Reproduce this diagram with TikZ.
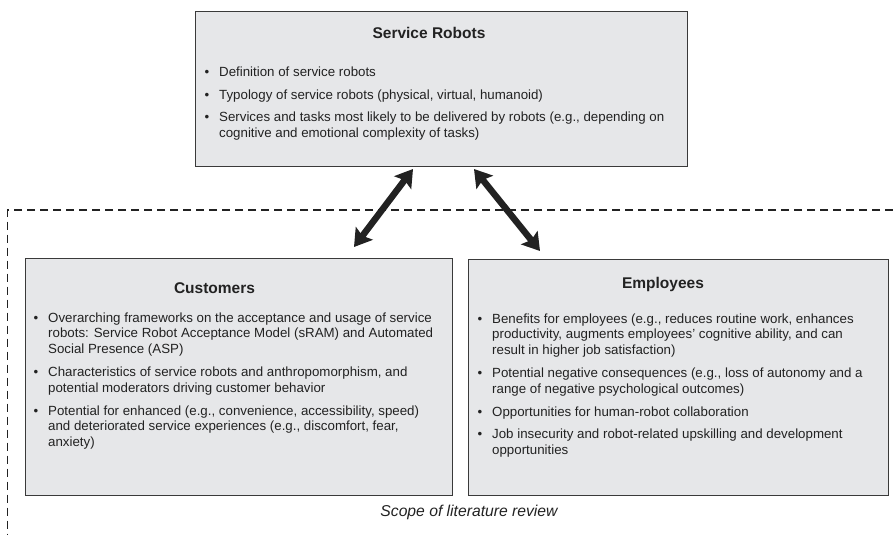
\documentclass[tikz,border=0pt]{standalone}
\usepackage{fontspec}
\setmainfont{Liberation Sans}
\usetikzlibrary{arrows.meta}
\definecolor{boxfill}{HTML}{E6E7E9}
\definecolor{boxline}{HTML}{3A3A3A}
\definecolor{ink}{HTML}{222222}
\newcommand{\bul}{\makebox[14.5pt][l]{\textbullet}}
\newcommand{\ind}{\hspace*{14.5pt}}
\tikzset{
  panel/.style={draw=boxline, fill=boxfill, line width=1.2pt, anchor=north west, inner sep=0pt},
  paneltitle/.style={font=\fontsize{15.5}{18}\selectfont\bfseries, text=ink, anchor=base, inner sep=0pt},
  itemlist/.style={font=\fontsize{13.3}{15.8}\selectfont, text=ink, anchor=base west, inner sep=0pt},
  biarrow/.style={draw=ink, line width=6.5pt, {Stealth[length=17pt,width=21pt,inset=3pt]}-{Stealth[length=17pt,width=21pt,inset=3pt]}, shorten <=0pt, shorten >=0pt},
  scopeline/.style={draw=ink, line width=1.1pt, dash pattern=on 8pt off 5pt},
  scopelabel/.style={font=\fontsize{15.7}{18}\selectfont\itshape, text=ink, inner sep=0pt}
}
\begin{document}
\begin{tikzpicture}[x=1pt,y=-1pt]
\useasboundingbox (0,0) rectangle (893,535);
% scope of review
\coordinate (sr) at (893,210);
\coordinate (sc) at (7.5,210);
\coordinate (sb) at (7.5,535);
\draw[scopeline] (sr) -- (sc) -- (sb);
\node[scopelabel] (scope) at (469,512) {Scope of literature review};
% boxes
\node[panel, minimum width=492pt, minimum height=155pt] (robots) at (195,11) {};
\node[panel, minimum width=427pt, minimum height=237pt] (cust) at (25,258) {};
\node[panel, minimum width=420pt, minimum height=236pt] (empl) at (468,259) {};
% titles
\node[paneltitle] (robotsT) at (429,38.5) {Service Robots};
\node[paneltitle] (custT) at (214.5,293.5) {Customers};
\node[paneltitle] (emplT) at (663,288.5) {Employees};
% contents
\node[itemlist] (robotsL) at (204.5,77) {\begin{tabular}[t]{@{}l@{}}
\bul Definition of service robots\\[6.5pt]
\bul Typology of service robots (physical, virtual, humanoid)\\[6.5pt]
\bul Services and tasks most likely to be delivered by robots (e.g., depending on\\
\ind cognitive and emotional complexity of tasks)\end{tabular}};
\node[itemlist] (custL) at (33.5,322) {\begin{tabular}[t]{@{}l@{}}
\bul Overarching frameworks on the acceptance and usage of service\\
\ind robots: Service Robot Acceptance Model (sRAM) and Automated\\
\ind Social Presence (ASP)\\[7pt]
\bul Characteristics of service robots and anthropomorphism, and\\
\ind potential moderators driving customer behavior\\[7pt]
\bul Potential for enhanced (e.g., convenience, accessibility, speed)\\
\ind and deteriorated service experiences (e.g., discomfort, fear,\\
\ind anxiety)\end{tabular}};
\node[itemlist] (emplL) at (477.5,323) {\begin{tabular}[t]{@{}l@{}}
\bul Benefits for employees (e.g., reduces routine work, enhances\\
\ind productivity, augments employees' cognitive ability, and can\\
\ind result in higher job satisfaction)\\[7pt]
\bul Potential negative consequences (e.g., loss of autonomy and a\\
\ind range of negative psychological outcomes)\\[7pt]
\bul Opportunities for human-robot collaboration\\[7pt]
\bul Job insecurity and robot-related upskilling and development\\
\ind opportunities\end{tabular}};
% arrows
\coordinate (a1c) at (354,247);
\coordinate (a1r) at (413,169);
\coordinate (a2r) at (474,169);
\coordinate (a2e) at (540,251);
\draw[biarrow] (a1c) -- (a1r);
\draw[biarrow] (a2r) -- (a2e);
\end{tikzpicture}
\end{document}
